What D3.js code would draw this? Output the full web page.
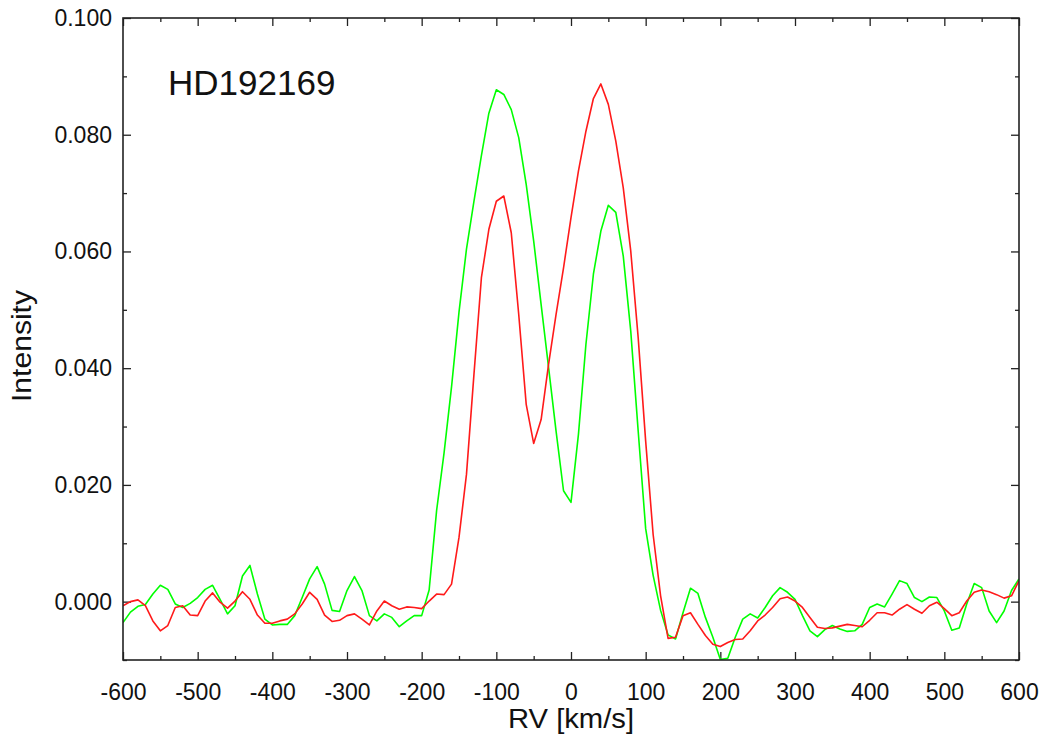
<!DOCTYPE html>
<html>
<head>
<meta charset="utf-8">
<script src="https://cdn.jsdelivr.net/npm/d3@7"></script>
<style>
  body { margin: 0; background: #fff; }
  text { font-family: "Liberation Sans", Arial, Helvetica, sans-serif; fill: #111; }
</style>
</head>
<body>
<div id="chartDiv"></div>
<script>
// radial velocity grid, km/s (profile sampled every 10 km/s)
var rv = d3.range(-600, 601, 10);

// LSD profile, red component
var redProfile = [
  -0.0007, 0.0000, 0.0003, -0.0007, -0.0033, -0.0050, -0.0041, -0.0010, -0.0007, -0.0023,
  -0.0024, 0.0001, 0.0015, -0.0001, -0.0011, 0.0001, 0.0017, 0.0004, -0.0023, -0.0037,
  -0.0037, -0.0033, -0.0030, -0.0021, -0.0004, 0.0016, 0.0004, -0.0023, -0.0034, -0.0032,
  -0.0024, -0.0021, -0.0030, -0.0040, -0.0016, 0.0001, -0.0007, -0.0013, -0.0009, -0.0010,
  -0.0012, 0.0001, 0.0013, 0.0012, 0.0030, 0.0110, 0.0218, 0.0389, 0.0555, 0.0638,
  0.0686, 0.0695, 0.0632, 0.0492, 0.0338, 0.0271, 0.0312, 0.0407, 0.0492, 0.0572,
  0.0658, 0.0738, 0.0806, 0.0862, 0.0887, 0.0852, 0.0789, 0.0709, 0.0601, 0.0452,
  0.0275, 0.0115, 0.0010, -0.0063, -0.0061, -0.0024, -0.0019, -0.0039, -0.0058, -0.0073,
  -0.0077, -0.0070, -0.0065, -0.0064, -0.0050, -0.0033, -0.0023, -0.0010, 0.0005, 0.0008,
  0.0001, -0.0010, -0.0027, -0.0044, -0.0046, -0.0045, -0.0042, -0.0039, -0.0041, -0.0043,
  -0.0032, -0.0019, -0.0019, -0.0023, -0.0013, -0.0005, -0.0013, -0.0020, -0.0007, -0.0001,
  -0.0012, -0.0024, -0.0019, 0.0001, 0.0016, 0.0020, 0.0017, 0.0012, 0.0006, 0.0010,
  0.0036
];

// LSD profile, green component
var greenProfile = [
  -0.0036, -0.0018, -0.0008, -0.0005, 0.0013, 0.0028, 0.0021, -0.0004, -0.0010, -0.0003,
  0.0007, 0.0021, 0.0028, 0.0004, -0.0021, -0.0007, 0.0044, 0.0062, 0.0013, -0.0030,
  -0.0040, -0.0039, -0.0039, -0.0024, 0.0007, 0.0039, 0.0060, 0.0030, -0.0015, -0.0017,
  0.0019, 0.0043, 0.0019, -0.0024, -0.0033, -0.0021, -0.0027, -0.0043, -0.0033, -0.0024,
  -0.0024, 0.0020, 0.0156, 0.0255, 0.0368, 0.0496, 0.0604, 0.0686, 0.0764, 0.0837,
  0.0877, 0.0869, 0.0843, 0.0795, 0.0715, 0.0618, 0.0509, 0.0401, 0.0292, 0.0190,
  0.0170, 0.0287, 0.0441, 0.0561, 0.0635, 0.0679, 0.0667, 0.0592, 0.0464, 0.0292,
  0.0125, 0.0045, -0.0015, -0.0057, -0.0064, -0.0019, 0.0023, 0.0014, -0.0027, -0.0061,
  -0.0099, -0.0097, -0.0061, -0.0030, -0.0021, -0.0028, -0.0010, 0.0010, 0.0024, 0.0016,
  0.0004, -0.0024, -0.0050, -0.0060, -0.0048, -0.0041, -0.0047, -0.0051, -0.0050, -0.0039,
  -0.0010, -0.0004, -0.0009, 0.0013, 0.0036, 0.0031, 0.0007, 0.0000, 0.0008, 0.0007,
  -0.0016, -0.0049, -0.0045, -0.0004, 0.0031, 0.0024, -0.0016, -0.0036, -0.0016, 0.0019,
  0.0039
];

var xTicks = [-600, -500, -400, -300, -200, -100, 0, 100, 200, 300, 400, 500, 600];
var yTicks = [0.000, 0.020, 0.040, 0.060, 0.080, 0.100];
var starName = "HD192169";

var margin = {top: 18, right: 21, bottom: 76, left: 123};
var swidth = 1040, sheight = 736;
var width = swidth - margin.left - margin.right,
    height = sheight - margin.top - margin.bottom;

var svg = d3.select("#chartDiv")
  .append("svg")
  .attr("width", swidth)
  .attr("height", sheight);

var g = svg.append("g")
  .attr("transform", "translate(" + margin.left + "," + margin.top + ")");

var x = d3.scaleLinear().domain([-600, 600]).range([0, width]);
var y = d3.scaleLinear().domain([-0.010, 0.100]).range([height, 0]);

g.append("clipPath").attr("id", "plotClip")
  .append("rect").attr("width", width).attr("height", height);

// minor ticks first, no labels
var xMinor = d3.range(-550, 600, 100);
var yMinor = [-0.01, 0.01, 0.03, 0.05, 0.07, 0.09];

function minorAxis(axis, vals) {
  return axis.tickValues(vals).tickSize(-4).tickFormat("");
}

g.append("g").attr("class", "minor")
  .attr("transform", "translate(0," + height + ")")
  .call(minorAxis(d3.axisBottom(x), xMinor));
g.append("g").attr("class", "minor")
  .call(minorAxis(d3.axisTop(x), xMinor));
g.append("g").attr("class", "minor")
  .call(minorAxis(d3.axisLeft(y), yMinor));
g.append("g").attr("class", "minor")
  .attr("transform", "translate(" + width + ",0)")
  .call(minorAxis(d3.axisRight(y), yMinor));

// major ticks (plain hyphen for negatives, like the original)
var xFmt = function(d) { return String(d); };

g.append("g").attr("class", "axis axis-x")
  .attr("transform", "translate(0," + height + ")")
  .call(d3.axisBottom(x).tickValues(xTicks).tickSize(-8).tickPadding(24).tickFormat(xFmt));
g.append("g").attr("class", "major")
  .call(d3.axisTop(x).tickValues(xTicks).tickSize(-8).tickFormat(""));
g.append("g").attr("class", "axis axis-y")
  .call(d3.axisLeft(y).tickValues(yTicks).tickSize(-8).tickPadding(11).tickFormat(d3.format(".3f")));
g.append("g").attr("class", "major")
  .attr("transform", "translate(" + width + ",0)")
  .call(d3.axisRight(y).tickValues(yTicks).tickSize(-8).tickFormat(""));

g.selectAll(".domain").remove();
g.selectAll(".tick line").attr("stroke", "#222").attr("stroke-width", 1.3);
g.selectAll(".axis text")
  .style("font-size", "23px")
  .attr("fill", "#111");

// series lines
var line = d3.line()
  .x(function(d, i) { return x(rv[i]); })
  .y(function(d) { return y(d); });

var lines = g.append("g").attr("clip-path", "url(#plotClip)");
lines.append("path")
  .datum(greenProfile)
  .attr("fill", "none")
  .attr("stroke", "#00ff00")
  .attr("stroke-width", 1.6)
  .attr("stroke-linejoin", "round")
  .attr("d", line);
lines.append("path")
  .datum(redProfile)
  .attr("fill", "none")
  .attr("stroke", "#ff1a1a")
  .attr("stroke-width", 1.6)
  .attr("stroke-linejoin", "round")
  .attr("d", line);

// frame
g.append("rect")
  .attr("width", width)
  .attr("height", height)
  .attr("fill", "none")
  .attr("stroke", "#222")
  .attr("stroke-width", 1.6);

// labels
g.append("text")
  .attr("x", 45)
  .attr("y", 77)
  .style("font-size", "35px")
  .text(starName);

svg.append("text")
  .attr("x", margin.left + x(0))
  .attr("y", 728)
  .attr("text-anchor", "middle")
  .attr("textLength", 126)
  .attr("lengthAdjust", "spacingAndGlyphs")
  .style("font-size", "28px")
  .text("RV [km/s]");

svg.append("text")
  .attr("transform", "translate(31," + (margin.top + height / 2 + 7) + ")rotate(-90)")
  .attr("text-anchor", "middle")
  .attr("textLength", 112)
  .attr("lengthAdjust", "spacingAndGlyphs")
  .style("font-size", "27px")
  .text("Intensity");
</script>
</body>
</html>
